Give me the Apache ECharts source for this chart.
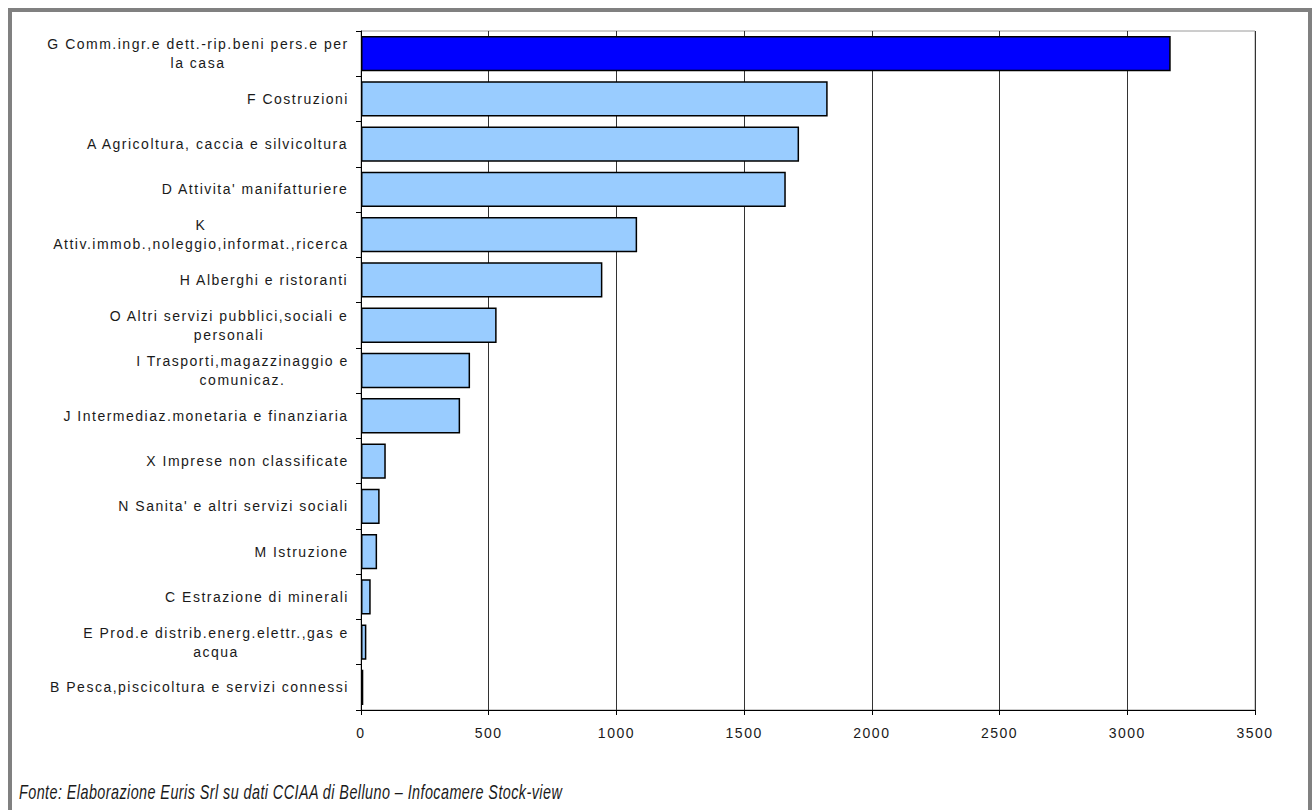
<!DOCTYPE html>
<html>
<head>
<meta charset="utf-8">
<script src="https://cdn.jsdelivr.net/npm/echarts@6/dist/echarts.min.js"></script>
<style>
  html, body { margin: 0; padding: 0; background: #fff; }
  #chart { width: 1312px; height: 810px; }
  /* the printed labels are widely tracked */
  #chart text { letter-spacing: 1.5px; }
  #chart text[style*="italic"] { letter-spacing: 0.6px; }
</style>
</head>
<body>
<div id="chart"></div>
<script>
// Sectors (top to bottom) and number of firms
const categories = [
  "G Comm.ingr.e dett.-rip.beni pers.e per\nla casa",
  "F Costruzioni",
  "A Agricoltura, caccia e silvicoltura",
  "D Attivita' manifatturiere",
  "K\nAttiv.immob.,noleggio,informat.,ricerca",
  "H Alberghi e ristoranti",
  "O Altri servizi pubblici,sociali e\npersonali",
  "I Trasporti,magazzinaggio e\ncomunicaz.",
  "J Intermediaz.monetaria e finanziaria",
  "X Imprese non classificate",
  "N Sanita' e altri servizi sociali",
  "M Istruzione",
  "C Estrazione di minerali",
  "E Prod.e distrib.energ.elettr.,gas e\nacqua",
  "B Pesca,piscicoltura e servizi connessi"
];
const values = [3170, 1827, 1715, 1663, 1081, 945, 531, 427, 388, 97, 73, 63, 38, 21, 9];
const axisMax = 3500;
const axisStep = 500;
const sourceNote = "Fonte: Elaborazione Euris Srl su dati CCIAA di Belluno \u2013 Infocamere Stock-view";

const FONT = '"Liberation Sans", Arial, Helvetica, sans-serif';
const LS = 1.5;
const TEXT = '#1a1a1a';

// width of each label block (widest line, tracked), so short lines centre under long ones
const ctx = document.createElement('canvas').getContext('2d');
ctx.font = '14px ' + FONT;
const lineWidth = s => ctx.measureText(s).width + LS * s.length;
const rich = {};
categories.forEach((c, i) => {
  const w = Math.max(...c.split('\n').map(lineWidth));
  rich['r' + i] = {
    width: Math.ceil(w), align: 'center', fontSize: 14, lineHeight: 19,
    fontFamily: FONT, color: TEXT
  };
});

const chart = echarts.init(document.getElementById('chart'), null, { renderer: 'svg' });
chart.setOption({
  animation: false,
  backgroundColor: '#fff',
  grid: {
    left: 361, right: 57, top: 31, bottom: 100,
    show: true, borderColor: '#9a9a9a', borderWidth: 1, backgroundColor: '#fff'
  },
  xAxis: {
    type: 'value', min: 0, max: axisMax, interval: axisStep,
    axisLine: { show: true, lineStyle: { color: '#000', width: 1 } },
    axisTick: { show: true, length: 5, lineStyle: { color: '#000' } },
    splitLine: { show: true, lineStyle: { color: '#333', width: 1 } },
    axisLabel: {
      fontSize: 14, fontFamily: FONT, color: TEXT, margin: 16,
      formatter: v => String(v)
    }
  },
  yAxis: {
    type: 'category', inverse: true, data: categories,
    axisLine: { show: true, lineStyle: { color: '#000', width: 1 } },
    axisTick: { show: true, length: 5, lineStyle: { color: '#000' } },
    axisLabel: {
      interval: 0, align: 'right', margin: 12, rich: rich,
      formatter: (v, i) => v.split('\n').map(l => '{r' + i + '|' + l + '}').join('\n')
    }
  },
  series: [{
    type: 'bar',
    data: values,
    barCategoryGap: '22%',
    itemStyle: {
      color: p => p.dataIndex === 0 ? '#0000ff' : '#99ccff',
      borderColor: '#000',
      borderWidth: 1.5
    }
  }],
  graphic: [
    {
      type: 'rect', silent: true, z: 100,
      shape: { x: 10, y: 10, width: 1300, height: 830 },
      style: { fill: 'none', stroke: '#808080', lineWidth: 4 }
    },
    {
      // condensed italic source line
      type: 'text', x: 19, y: 792, scaleX: 0.72, silent: true,
      style: {
        text: sourceNote, fill: TEXT, fontSize: 20, fontStyle: 'italic',
        fontFamily: FONT, verticalAlign: 'middle', align: 'left'
      }
    }
  ]
});
</script>
</body>
</html>
